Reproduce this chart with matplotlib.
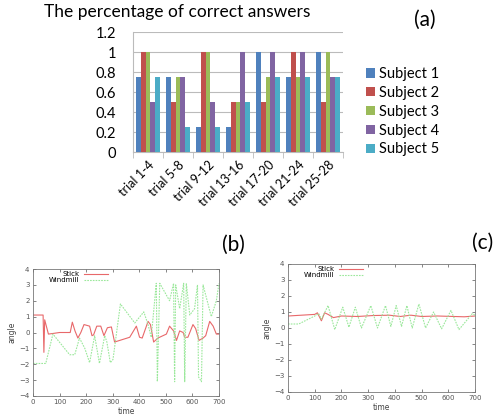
import numpy as np
import matplotlib
matplotlib.use('Agg')
import matplotlib.pyplot as plt

# (a) percentage of correct answers
groups = ['trial 1-4', 'trial 5-8', 'trial 9-12', 'trial 13-16',
          'trial 17-20', 'trial 21-24', 'trial 25-28']
subjects = ['Subject 1', 'Subject 2', 'Subject 3', 'Subject 4', 'Subject 5']
subject1 = [0.75, 0.75, 0.25, 0.25, 1.0, 0.75, 1.0]
subject2 = [1.0, 0.5, 1.0, 0.5, 0.5, 1.0, 0.5]
subject3 = [1.0, 0.75, 1.0, 0.5, 0.75, 0.75, 1.0]
subject4 = [0.5, 0.75, 0.5, 1.0, 1.0, 1.0, 0.75]
subject5 = [0.75, 0.25, 0.25, 0.5, 0.75, 0.75, 0.75]
bar_colors = ['#4F81BD', '#C0504D', '#9BBB59', '#8064A2', '#4BACC6']

# (b) angle vs time
b_stick_t = [0, 38, 41, 44, 58, 80, 100, 140, 148, 158, 169, 180, 192, 213, 222, 228,
             240, 255, 267, 280, 295, 307, 326, 364, 389, 401, 411, 433, 442, 454,
             470, 502, 514, 529, 540, 552, 565, 571, 583, 602, 612, 625, 640, 650,
             665, 678, 690, 700]
b_stick_a = [1.1, 1.1, -1.25, 0.8, -0.1, -0.05, 0.0, 0.0, 0.65, 0.1, -0.35, 0.0, 0.5,
             0.4, -0.2, -0.15, 0.4, 0.4, -0.2, 0.3, 0.35, -0.6, -0.5, -0.3, 0.4, -0.3,
             -0.35, 0.7, 0.5, -0.6, -0.35, -0.1, 0.4, 0.1, -0.5, 0.1, 0.0, -0.3, -0.3,
             0.5, 0.25, -0.5, -0.35, -0.2, 0.7, 0.4, -0.1, -0.1]
b_wind_t = [0, 48, 75, 138, 157, 175, 195, 213, 232, 250, 270, 278, 291, 301, 329,
            383, 417, 433, 445, 464, 468, 477, 514, 529, 533, 537, 552, 567, 571, 577,
            590, 608, 619, 623, 634, 640, 671, 690, 700]
b_wind_a = [-1.95, -1.95, -0.1, -1.4, -1.4, -0.35, -1.0, -1.9, -0.2, -1.95, -0.2, -0.6,
            -1.9, -1.7, 1.8, 0.6, 1.3, 0.5, -0.3, 3.1, -3.1, 3.1, 2.0, 3.1, -3.1, 3.0,
            1.5, 3.1, -3.1, 3.1, 1.1, 1.5, 3.0, -2.8, -3.1, 3.0, 1.0, 2.0, 3.1]

# (c) angle vs time
c_stick_t = [0, 50, 100, 110, 125, 137, 150, 170, 200, 260, 320, 380, 420, 460, 500,
             560, 620, 660, 700]
c_stick_a = [0.75, 0.8, 0.85, 0.95, 0.45, 0.95, 0.85, 0.65, 0.75, 0.72, 0.78, 0.8,
             0.72, 0.8, 0.72, 0.75, 0.72, 0.7, 0.75]
c_wind_t = [0, 40, 100, 115, 125, 150, 175, 205, 228, 252, 275, 310, 335, 365, 385,
            405, 425, 445, 465, 490, 515, 545, 575, 610, 640, 690, 700]
c_wind_a = [0.25, 0.25, 0.75, 0.9, 0.55, 1.4, -0.1, 1.3, 0.05, 1.3, 0.0, 1.4, 0.0,
            1.4, 0.1, 1.4, 0.1, 1.4, 0.0, 1.5, 0.0, 1.0, -0.05, 1.1, -0.1, 0.9, 0.8]

W, H = 496, 418
fig = plt.figure(figsize=(W / 100, H / 100), dpi=100)


def px_axes(x0, y0, x1, y1):
    # pixel box (left, top, right, bottom) -> figure fractions
    return fig.add_axes([x0 / W, 1 - y1 / H, (x1 - x0) / W, (y1 - y0) / H])


# ---- panel (a): grouped bars ----
office = ['Lato', 'DejaVu Sans']
ax = px_axes(133, 32, 343, 152)
x = np.arange(len(groups))
bw = 0.165
values = [subject1, subject2, subject3, subject4, subject5]
for i, (vals, name) in enumerate(zip(values, subjects)):
    ax.bar(x + (i - 2) * bw, vals, width=bw, color=bar_colors[i], label=name, zorder=3)
ax.set_xlim(-0.5, len(groups) - 0.5)
ax.set_ylim(0, 1.2)
ax.set_yticks([0, 0.2, 0.4, 0.6, 0.8, 1.0, 1.2])
ax.set_yticklabels(['0', '0.2', '0.4', '0.6', '0.8', '1', '1.2'], fontsize=10.5, family=office)
ax.set_xticks(x)
ax.set_xticklabels(groups, rotation=45, ha='right', rotation_mode='anchor',
                   fontsize=9, family=office)
ax.tick_params(axis='x', length=0, pad=5)
ax.tick_params(axis='y', length=0, pad=12)
ax.set_xticks(np.arange(-0.5, len(groups)), minor=True)
ax.tick_params(axis='x', which='minor', length=4, color='#bbbbbb')
ax.grid(axis='y', color='#bbbbbb', linewidth=0.8, zorder=0)
for s in ['top', 'right']:
    ax.spines[s].set_visible(False)
for s in ['left', 'bottom']:
    ax.spines[s].set_color('#bbbbbb')
fig.text(44 / W, 1 - 12 / H, 'The percentage of correct answers', fontsize=12.5,
         family=office, va='center', ha='left')
fig.text(425 / W, 1 - 20 / H, '(a)', fontsize=15, family=office, va='center', ha='center')
leg = ax.legend(loc='upper left', bbox_to_anchor=(353 / W, 1 - 54 / H),
                bbox_transform=fig.transFigure, frameon=False,
                prop={'family': office, 'size': 10.5}, handlelength=0.6,
                handleheight=0.6, handletextpad=0.3, labelspacing=0.33)


# ---- panels (b), (c): gnuplot-style line plots ----
def angle_panel(box, st_t, st_a, wi_t, wi_a):
    a = px_axes(*box)
    a.plot(st_t, st_a, color='#e8686a', linewidth=0.8, label='Stick')
    a.plot(wi_t, wi_a, color='#9be89b', linewidth=0.8, linestyle=(0, (1.5, 1)),
           label='Windmill')
    a.set_xlim(0, 700)
    a.set_ylim(-4, 4)
    a.set_xticks(range(0, 701, 100))
    a.set_yticks(range(-4, 5))
    a.tick_params(direction='in', top=True, right=True, length=2.5, width=0.5,
                  labelsize=5, colors='#555555', pad=2.5)
    for s in a.spines.values():
        s.set_color('#777777')
        s.set_linewidth(0.6)
    a.set_xlabel('time', fontsize=5.5, color='#444444', labelpad=1)
    a.set_ylabel('angle', fontsize=5.5, color='#444444', labelpad=2)
    a.legend(loc='upper left', bbox_to_anchor=(0.06, 1.02), frameon=False,
             markerfirst=False, fontsize=5, handlelength=3.5, labelspacing=0.0,
             handletextpad=0.6, borderaxespad=0.3)
    return a


angle_panel((33, 269, 219, 396), b_stick_t, b_stick_a, b_wind_t, b_wind_a)
angle_panel((288, 264, 475, 392), c_stick_t, c_stick_a, c_wind_t, c_wind_a)
fig.text(233 / W, 1 - 245 / H, '(b)', fontsize=15, family=office, va='center', ha='center')
fig.text(483 / W, 1 - 243 / H, '(c)', fontsize=15, family=office, va='center', ha='center')

fig.savefig('out.png', dpi=100)
